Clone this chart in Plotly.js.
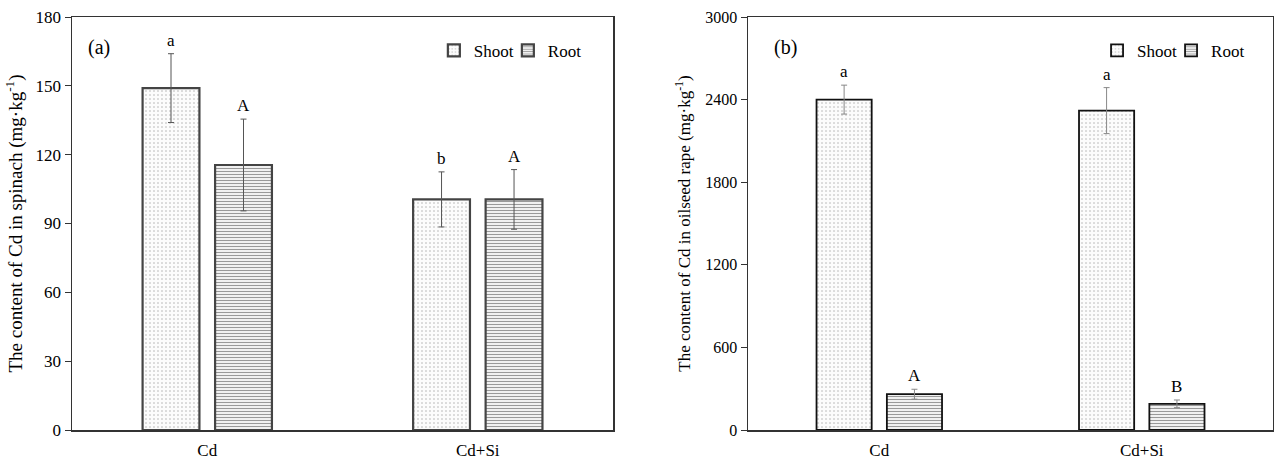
<!DOCTYPE html>
<html><head><meta charset="utf-8">
<script src="https://cdn.plot.ly/plotly-3.0.1.min.js"></script>
<style>html,body{margin:0;padding:0;background:#fff}#chart{width:1274px;height:459px}</style>
</head><body><div id="chart"></div>
<script>
// ---- data ----
const categories = ['Cd', 'Cd+Si'];
const spinachShoot = [149, 100.5];
const spinachShootErr = [15, 12];
const spinachRoot = [115.5, 100.5];
const spinachRootErr = [20, 13];
const rapeShoot = [2400, 2320];
const rapeShootErr = [105, 167];
const rapeRoot = [260, 190];
const rapeRootErr = [36, 28];
const spinachShootLetters = ['a', 'b'];
const spinachRootLetters = ['A', 'A'];
const rapeShootLetters = ['a', 'a'];
const rapeRootLetters = ['A', 'B'];
const seriesNames = ['Shoot', 'Root'];

const FONT = "'Liberation Serif', 'Times New Roman', serif";
const shootPattern = {shape: '.', fgcolor: '#b0b0b0', bgcolor: '#fcfcfc', size: 4, solidity: 0.12};
const rootPattern = {shape: '-', fgcolor: '#999999', bgcolor: '#f0f0f0', size: 3, solidity: 0.35};

function bar(name, y, err, pattern, xa, ya, legend, lineW, lineC, errC) {
  return {
    type: 'bar', name: name, x: categories, y: y, xaxis: xa, yaxis: ya, legend: legend,
    marker: {color: '#fcfcfc', pattern: pattern, line: {color: lineC, width: lineW}},
    error_y: {type: 'data', array: err, visible: true, color: errC, thickness: 1, width: 3},
    hoverinfo: 'skip'
  };
}

const data = [
  bar(seriesNames[0], spinachShoot, spinachShootErr, shootPattern, 'x', 'y', 'legend', 2.2, '#444', '#555'),
  bar(seriesNames[1], spinachRoot, spinachRootErr, rootPattern, 'x', 'y', 'legend', 2.2, '#444', '#555'),
  bar(seriesNames[0], rapeShoot, rapeShootErr, shootPattern, 'x2', 'y2', 'legend2', 1.8, '#111', '#888'),
  bar(seriesNames[1], rapeRoot, rapeRootErr, rootPattern, 'x2', 'y2', 'legend2', 1.8, '#111', '#888')
];

const OFF = 0.134;
const annotations = [];
function letters(vals, errs, labs, offset, xa, ya) {
  labs.forEach((t, i) => annotations.push({
    x: i + offset, y: vals[i] + errs[i], xref: xa, yref: ya, text: t, showarrow: false,
    yanchor: 'bottom', yshift: 2, font: {family: FONT, size: 17, color: '#000'}
  }));
}
letters(spinachShoot, spinachShootErr, spinachShootLetters, -OFF, 'x', 'y');
letters(spinachRoot, spinachRootErr, spinachRootLetters, OFF, 'x', 'y');
letters(rapeShoot, rapeShootErr, rapeShootLetters, -OFF, 'x2', 'y2');
letters(rapeRoot, rapeRootErr, rapeRootLetters, OFF, 'x2', 'y2');
annotations.push({x: 0.026, y: 0.927, xref: 'x domain', yref: 'y domain', text: '(a)', showarrow: false,
  xanchor: 'left', yanchor: 'middle', font: {family: FONT, size: 20, color: '#000'}});
annotations.push({x: 0.046, y: 0.927, xref: 'x2 domain', yref: 'y2 domain', text: '(b)', showarrow: false,
  xanchor: 'left', yanchor: 'middle', font: {family: FONT, size: 20, color: '#000'}});

const axLine = {showline: true, linecolor: '#333', linewidth: 1.5, mirror: true, zeroline: false, showgrid: false};
const legendCommon = {orientation: 'h', font: {family: FONT, size: 17, color: '#000'},
  bgcolor: 'rgba(0,0,0,0)', itemwidth: 30, yanchor: 'middle', xanchor: 'left',
  entrywidthmode: 'pixels', entrywidth: 29};

const layout = {
  width: 1274, height: 459,
  margin: {l: 72, r: 1, t: 17, b: 29},
  paper_bgcolor: '#fff', plot_bgcolor: '#fff',
  barmode: 'group', bargap: 0.464, bargroupgap: 0.216,
  font: {family: FONT, color: '#000'},
  xaxis: Object.assign({domain: [0, 0.4505], anchor: 'y', ticks: '', type: 'category', ticklabelstandoff: 4,
    tickfont: {family: FONT, size: 17, color: '#000'}}, axLine),
  yaxis: Object.assign({range: [0, 180], dtick: 30, ticks: 'outside', ticklen: 6, tickcolor: '#333',
    tickfont: {family: FONT, size: 17, color: '#000'}, anchor: 'x',
    title: {text: 'The content of Cd in spinach (mg·kg<sup>-1</sup>)', font: {family: FONT, size: 19, color: '#000'}, standoff: 8}}, axLine),
  xaxis2: Object.assign({domain: [0.5629, 1], anchor: 'y2', ticks: '', type: 'category', ticklabelstandoff: 4,
    tickfont: {family: FONT, size: 17, color: '#000'}}, axLine),
  yaxis2: Object.assign({range: [0, 3000], dtick: 600, ticks: 'outside', ticklen: 6, tickcolor: '#333',
    tickfont: {family: FONT, size: 16, color: '#000'}, anchor: 'x2',
    title: {text: 'The content of Cd in oilseed rape (mg·kg<sup>-1</sup>)', font: {family: FONT, size: 17, color: '#000'}, standoff: 10}}, axLine),
  legend: Object.assign({x: 0.3013, y: 0.918}, legendCommon),
  legend2: Object.assign({x: 0.8535, y: 0.918}, legendCommon),
  annotations: annotations
};

Plotly.newPlot('chart', data, layout, {staticPlot: true});
</script></body></html>
